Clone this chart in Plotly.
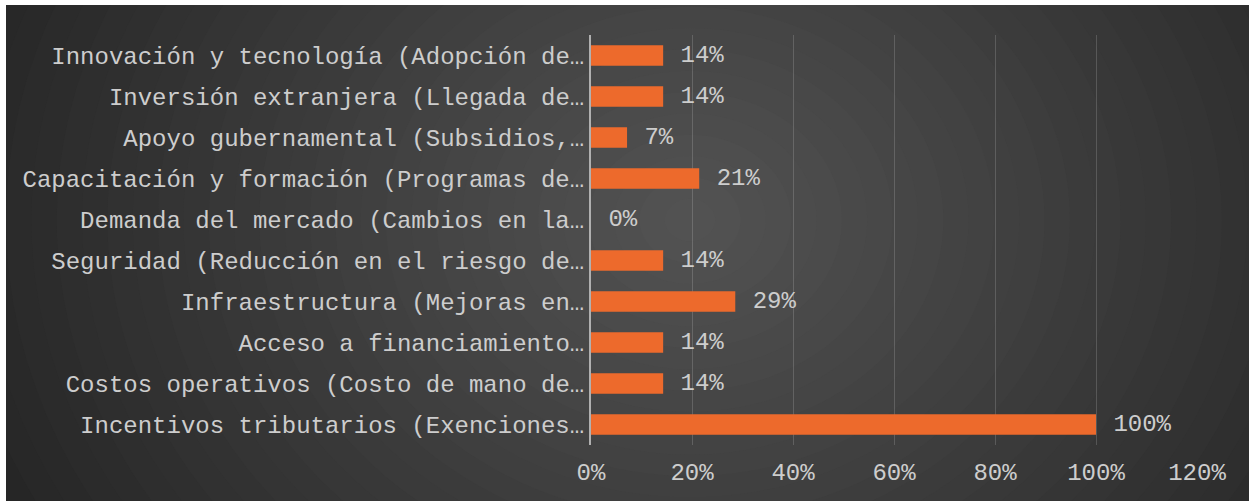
import plotly.graph_objects as go

categories = [
    "Incentivos tributarios (Exenciones…",
    "Costos operativos (Costo de mano de…",
    "Acceso a financiamiento…",
    "Infraestructura (Mejoras en…",
    "Seguridad (Reducción en el riesgo de…",
    "Demanda del mercado (Cambios en la…",
    "Capacitación y formación (Programas de…",
    "Apoyo gubernamental (Subsidios,…",
    "Inversión extranjera (Llegada de…",
    "Innovación y tecnología (Adopción de…",
]
values = [1.0, 0.1429, 0.1429, 0.2857, 0.1429, 0.0, 0.2143, 0.0714, 0.1429, 0.1429]
x_ticks = [0, 0.2, 0.4, 0.6, 0.8, 1.0, 1.2]

W, H = 1251, 501
ML, MR, MT, MB = 591, 54, 35, 56
PW, PH = W - ML - MR, H - MT - MB

def px(x):
    return (x - ML) / PW

def py(y):
    return (H - MB - y) / PH

FONT = "Liberation Mono, Courier New, monospace"
TXT = "#cdcdcd"

fig = go.Figure(go.Bar(
    x=values, y=categories, orientation="h",
    marker=dict(color="#ED6A2C", line=dict(width=0)),
    texttemplate="\u00a0%{x:.0%}", textposition="outside",
    constraintext="none",
    textfont=dict(family=FONT, size=24, color=TXT),
    cliponaxis=False,
))

shapes = []
shapes.append(dict(type="rect", xref="paper", yref="paper", layer="below",
                   x0=px(6), x1=px(1249), y0=py(5), y1=py(501),
                   fillcolor="#262626", line=dict(width=0)))
cx, cy, Rx, Ry = 690, 220, 760, 640
N = 30
c_out, c_in = 38, 84
for k in range(N, 0, -1):
    f = k / N
    g = round(c_in + (c_out - c_in) * f)
    shapes.append(dict(type="circle", xref="paper", yref="paper", layer="below",
                       x0=px(cx - Rx * f), x1=px(cx + Rx * f),
                       y0=py(cy + Ry * f), y1=py(cy - Ry * f),
                       fillcolor=f"rgb({g},{g},{g})", line=dict(width=0)))
for (a, b, c, d) in [(0, 1251, 0, 5), (0, 6, 0, 501), (1249, 1251, 0, 501)]:
    shapes.append(dict(type="rect", xref="paper", yref="paper", layer="below",
                       x0=px(a), x1=px(b), y0=py(d), y1=py(c),
                       fillcolor="white", line=dict(width=0)))

fig.update_layout(
    width=W, height=H,
    margin=dict(l=ML, r=MR, t=MT, b=MB, autoexpand=False),
    paper_bgcolor="white", plot_bgcolor="rgba(0,0,0,0)",
    bargap=0.5, showlegend=False,
    shapes=shapes,
    font=dict(family=FONT, size=24, color=TXT),
)
fig.update_xaxes(range=[0, 1.2], tickvals=x_ticks, tickformat=".0%",
                 showgrid=True, gridcolor="rgba(255,255,255,0.16)", gridwidth=1,
                 zeroline=False, showline=False, ticks="",
                 tickfont=dict(family=FONT, size=24, color=TXT),
                 ticklabelstandoff=10)
fig.update_yaxes(showline=True, linecolor="#b0b0b0", linewidth=2,
                 showgrid=False, ticks="",
                 tickfont=dict(family=FONT, size=24, color=TXT),
                 ticklabelstandoff=0)

fig.write_html(
    "out.html",
    config={"displayModeBar": False},
    post_script="document.body.style.margin='0';document.body.style.padding='0';document.body.style.overflow='hidden';",
)
